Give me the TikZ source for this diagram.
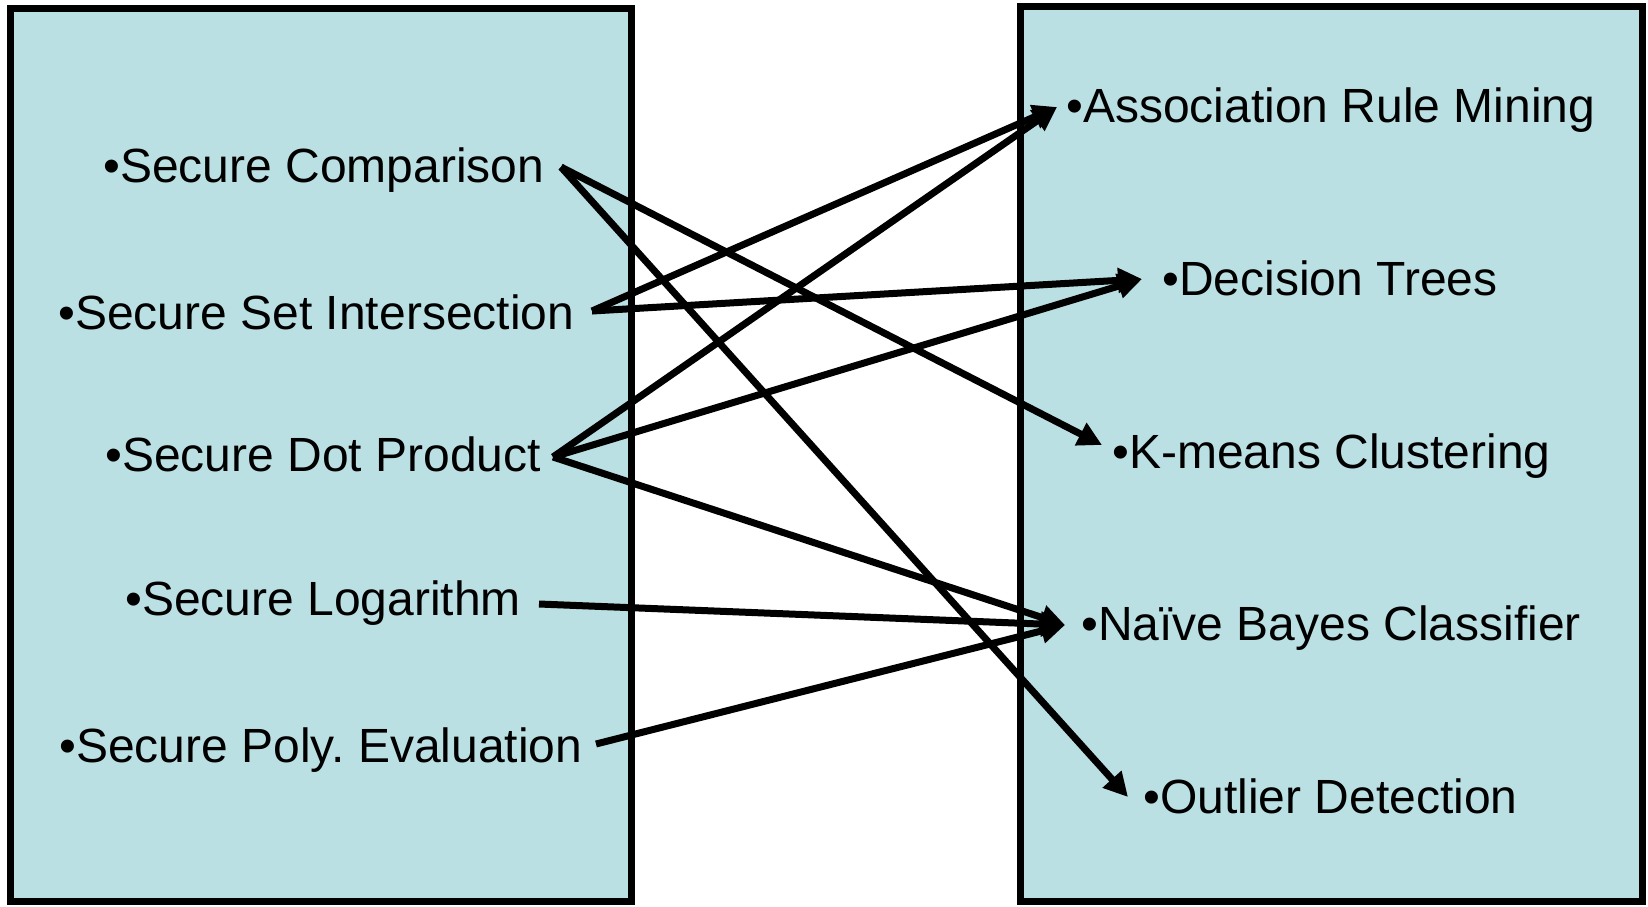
\documentclass[tikz,border=0pt]{standalone}
\usepackage{fontspec}
\setmainfont{Liberation Sans}
\usetikzlibrary{arrows.meta}
\definecolor{boxfill}{RGB}{187,224,227}
\frenchspacing
\begin{document}
\begin{tikzpicture}[x=0.5pt,y=-0.5pt,
  panel/.style={draw=black, line width=3.5pt, fill=boxfill},
  item/.style={anchor=base west, inner sep=0pt, font=\fontsize{24}{28}\selectfont},
  link/.style={line width=3.5pt, -{Triangle[length=12pt,width=12pt]}}]
\useasboundingbox (0,0) rectangle (1648,906);
% panels
\path[panel] (10.5,8) rectangle (631,901);
\path[panel] (1020,6.5) rectangle (1642,901);
% left items
\node[item] (sc) at (103,182) {•Secure Comparison};
\node[item] (ssi) at (58,329) {•Secure Set Intersection};
\node[item] (sdp) at (105,471) {•Secure Dot Product};
\node[item] (slog) at (125,615) {•Secure Logarithm};
\node[item] (spe) at (59,762) {•Secure Poly.\ Evaluation};
% right items
\node[item] (arm) at (1066,122) {•Association Rule Mining};
\node[item] (dt) at (1162,295) {•Decision Trees};
\node[item] (km) at (1112,468) {•K-means Clustering};
\node[item] (nbc) at (1081,640) {•Naïve Bayes Classifier};
\node[item] (od) at (1143,813) {•Outlier Detection};
% ports
\coordinate (sc-o) at (561,167);
\coordinate (ssi-o) at (592,311);
\coordinate (sdp-o) at (553,457);
\coordinate (slog-o) at (539,604);
\coordinate (spe-o) at (596,744);
\coordinate (arm-i) at (1057,107);
\coordinate (dt-i) at (1142,279);
\coordinate (km-i) at (1102,445);
\coordinate (nbc-i) at (1065,625);
\coordinate (od-i) at (1128,797);
% connectors
\draw[link] (sc-o) -- (km-i);
\draw[link] (sc-o) -- (od-i);
\draw[link] (ssi-o) -- (arm-i);
\draw[link] (ssi-o) -- (dt-i);
\draw[link] (sdp-o) -- (arm-i);
\draw[link] (sdp-o) -- (dt-i);
\draw[link] (sdp-o) -- (nbc-i);
\draw[link] (slog-o) -- (nbc-i);
\draw[link] (spe-o) -- (nbc-i);
\end{tikzpicture}
\end{document}
